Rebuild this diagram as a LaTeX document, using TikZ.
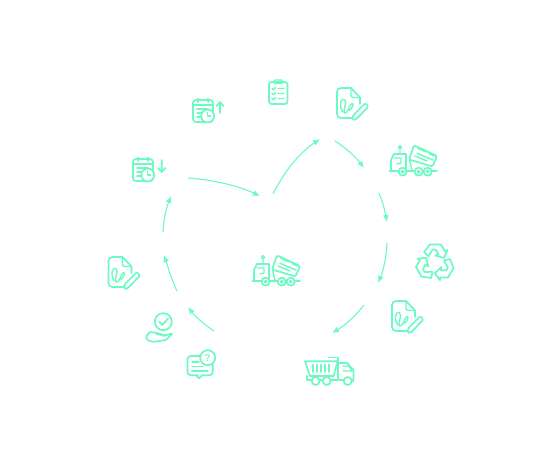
\documentclass[tikz,border=0pt]{standalone}
\usepackage{fontspec}
\setmainfont{Liberation Sans}
\usetikzlibrary{arrows.meta}
\definecolor{mint}{HTML}{6CF9C4}
\tikzset{
  x=1pt,y=-1pt,
  flow/.style={draw=mint,line width=1.1pt,-{Latex[length=7pt,width=6pt]}},
  ico/.style={draw=mint,line width=1.7pt,line join=round,line cap=round},
  icothin/.style={draw=mint,line width=1.4pt,line join=round,line cap=round},
  pics/truck/.style={code={
    \draw[icothin] (11,2.2) circle (1.6) (11,4)--(11,9);
    \draw[ico] (2,25)--(2,15)--(5,9)--(17,9)--(17,25);
    \draw[icothin] (5,13)--(12,13)--(12,18)--(8,19);
    \draw[ico] (0.5,26)--(48,26);
    \draw[ico,rounded corners=1.5pt] (25,0.3)--(48,11)--(43.5,21.5)--(20,14.5)--cycle;
    \draw[icothin] (20.5,15)--(23,25) (28,8.3)--(44,15) (26,11)--(38,16) (29,3.5)--(37,7) (40,8.5)--(45,11);
    \foreach \wx in {13.7,29.7,38.7}{
      \draw[ico,fill=white] (\wx,26.7) circle (4);
      \draw[icothin] (\wx,26.7) circle (1.2);}
  }},
  pics/docsign/.style={code={
    \draw[ico,rounded corners=4pt] (15,30)--(0,30)--(0,0)--(14,0);
    \draw[ico] (14,0)--(23,9.5)--(23,16);
    \draw[icothin,rounded corners=2pt] (14,0)--(14,9.5)--(23,9.5);
    \draw[icothin] (5.5,24) .. controls (1,15) and (5,10) .. (7.5,11.5) .. controls (11,14) and (5,23) .. (7.5,25) .. controls (11,26.5) and (12,17) .. (15,15.5) .. controls (17.5,15) and (15,21) .. (12.5,22.5);
    \draw[ico,fill=white,rounded corners=1.5pt] (28.5,15)--(31.5,18.5)--(19,31.5)--(15.5,32)--(16,27.5)--cycle;
  }},
  pics/calbody/.style={code={
    \draw[ico,rounded corners=3pt] (0,0) rectangle (20,22);
    \draw[icothin] (5,-1.5)--(5,2) (15,-1.5)--(15,2) (0,5)--(20,5) (4,9)--(15,9) (4,13)--(10,13) (4,17)--(8,17);
    \draw[ico,fill=white] (14.7,16) circle (6.5);
    \draw[icothin] (14.7,12.5)--(14.7,16)--(17.5,16);
  }},
  pics/recycleunit/.style={code={
    \draw[ico] (-11,-11)--(-5,-18.5)--(6,-18.5)--(10,-11.5)--(12.5,-13)--(9,-5)--(0.5,-7.5)--(3.5,-9)--(0.5,-13.5)--(-2.5,-13.5)--(-6.5,-6.5)--cycle;
  }},
}
\begin{document}
\begin{tikzpicture}
\useasboundingbox (0,0) rectangle (550,450);
% named ends of the connectors
\coordinate (a1s) at (188,178); \coordinate (a1e) at (260,196);
\coordinate (a2s) at (273,194); \coordinate (a2e) at (320,139);
\coordinate (a3s) at (335,141); \coordinate (a3e) at (364,168);
\coordinate (a4s) at (379,193); \coordinate (a4e) at (387,222);
\coordinate (a5s) at (387,243); \coordinate (a5e) at (378,283);
\coordinate (a6s) at (364,305); \coordinate (a6e) at (332,333);
\coordinate (a7s) at (214,331); \coordinate (a7e) at (188,307);
\coordinate (a8s) at (177,291); \coordinate (a8e) at (164,255);
\coordinate (a9s) at (163,232); \coordinate (a9e) at (171,196);
\draw[flow] (a1s) .. controls (214.7,180) and (238.7,186) .. (a1e);
\draw[flow] (a2s) .. controls (284.3,171.3) and (299.3,153) .. (a2e);
\draw[flow] (a3s) .. controls (346.3,148.3) and (356,157.3) .. (a3e);
\draw[flow] (a4s) .. controls (382.3,201) and (385,210.7) .. (a4e);
\draw[flow] (a5s) .. controls (386.3,257.7) and (383.3,271) .. (a5e);
\draw[flow] (a6s) .. controls (354.7,317) and (344,326) .. (a6e);
\draw[flow] (a7s) .. controls (204,324.3) and (195,316.3) .. (a7e);
\draw[flow] (a8s) .. controls (171.7,280.3) and (167.3,265) .. (a8e);
\draw[flow] (a9s) .. controls (163.7,219.3) and (166.3,208) .. (a9e);
% trucks
\pic (truckc) at (252,255) {truck};
\pic (truckt) at (389,145) {truck};
% signed documents
\pic (doca) at (337,88) {docsign};
\pic (docb) at (392,301) {docsign};
\pic (docc) at (108.5,257) {docsign};
% calendars
\pic (calu) at (193,100) {calbody};
\draw[ico] (220,113)--(220,102) (216.5,106)--(220,102)--(223.5,106);
\pic (cald) at (133,159) {calbody};
\draw[ico] (161.7,160)--(161.7,172) (158,168)--(161.7,172)--(165.4,168);
% clipboard
\begin{scope}[shift={(269,80)}]
  \draw[ico,rounded corners=2.5pt] (0,2) rectangle (18.5,24);
  \draw[icothin,rounded corners=1pt] (5,0) rectangle (13.5,3.5);
  \foreach \cy in {8.5,13.5,18.5}{
    \draw[icothin] (3,\cy)--(4.5,\cy+1.3)--(6.5,\cy-1) (9,\cy)--(15,\cy);}
\end{scope}
% recycling
\pic (ra) at (435,263) {recycleunit};
\pic[rotate=120] (rb) at (435,263) {recycleunit};
\pic[rotate=240] (rc) at (435,263) {recycleunit};
% dump truck
\begin{scope}[shift={(305,357)}]
  \draw[ico] (0,4.3)--(32.7,4.3)--(28.5,19)--(5,19)--cycle;
  \draw[ico] (24,0.4)--(33,0.4)--(33,4);
  \foreach \sx in {8,12,16,20,24}{\draw[icothin] (\sx,7.5)--(\sx,15);}
  \draw[ico] (33,4)--(33,22) (33,6)--(42,6)--(48.5,13)--(48.5,24)--(47,24);
  \draw[icothin] (38,9)--(44,9)--(47,14)--(38,14);
  \draw[ico] (2,19)--(2,23)--(47,23);
  \foreach \wx in {10.7,21.7,42.7}{\draw[ico,fill=white] (\wx,24) circle (4);}
\end{scope}
% hand with check
\draw[ico] (163.3,321.7) circle (8.5);
\draw[ico] (159.3,321.5)--(162.3,325)--(168,318.5);
\draw[ico,rounded corners=1.5pt] (146,336.5)--(150,331.7)--(157,333)--(165,335.5)--(173,333)--(166,340)--(153,342)--(147,340)--cycle;
\draw[icothin] (156,334)--(165,336);
% question bubble
\draw[ico,rounded corners=3pt] (198,375.2)--(187.5,375.2)--(187.5,356)--(200,356);
\draw[ico,rounded corners=3pt] (212.7,364)--(212.7,375.2)--(202,375.2);
\draw[ico] (196,375.2)--(199,378.5)--(202,375.2);
\draw[icothin] (192,362)--(199,362) (192,366.5)--(203,366.5) (192,371)--(208,371);
\draw[ico,fill=white] (207.7,357.7) circle (7.5);
\node[text=mint,font=\bfseries\fontsize{10pt}{10pt}\selectfont,inner sep=0pt] (qm) at (207.7,357.7) {?};
\end{tikzpicture}
\end{document}
